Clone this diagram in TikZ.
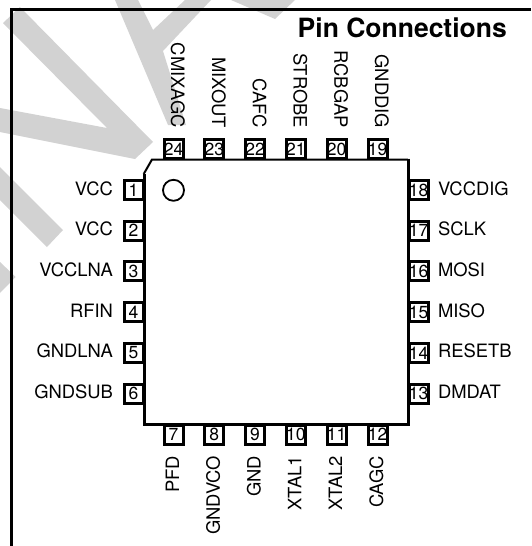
\documentclass[tikz,border=0pt]{standalone}
\usepackage{fontspec}
\setmainfont{TeX Gyre Heros}
\definecolor{wm}{HTML}{D2D2D2}
\tikzset{
  pinbox/.style={draw=black,line width=3pt,minimum width=19pt,minimum height=19pt,inner sep=0pt,outer sep=0pt,font=\fontsize{17.5}{18}\selectfont},
  lab/.style={inner sep=0pt,outer sep=0pt,font=\fontsize{18.4}{19}\selectfont},
  labl/.style={lab,anchor=base east},
  labr/.style={lab,anchor=base west},
  labt/.style={lab,anchor=base east,rotate=-90},
  labb/.style={lab,anchor=base east,rotate=90},
  wmark/.style={fill=wm,draw=none},
  frameline/.style={line width=3pt,line cap=butt},
}
\begin{document}
\begin{tikzpicture}[x=1pt,y=-1pt]
\useasboundingbox (0,0) rectangle (531,546);
% watermark
\fill[wmark] (3,23) -- (20,7) -- (153,142) -- (135,159) -- (0,132) -- (0,108) -- (107,128) -- cycle;
\fill[wmark] (0,167) -- (63,230) -- (47,247) -- (0,200) -- cycle;
\fill[wmark] (0,262) -- (15.7,277) -- (0,293) -- cycle;
\fill[wmark] (115,0) -- (138,0) -- (153,30) -- (185,0) -- (211,0) -- (163,51) -- (186,125) -- (168,125) -- cycle;
\fill[wmark] (231,0) -- (275,19) -- (295,0) -- cycle;
% frame
\draw[frameline] (531,9.7) -- (11.3,9.7) -- (11.3,546);
\node[anchor=base east,inner sep=0pt,font=\fontsize{26.5}{27}\bfseries\selectfont] (title) at (507,37) {Pin Connections};
% package body
\draw[line width=2pt] (143.7,174) -- (152,159.5) -- (408,159.5);
\draw[line width=3pt,line join=miter] (408,158.5) -- (408,424.5) -- (144,424.5) -- (144,173.5);
\node[draw,circle,line width=1.8pt,minimum size=21pt,inner sep=0pt] (dot) at (173.5,190.3) {};
% pins
\foreach \n/\t [count=\i from 0] in {1/VCC,2/VCC,3/VCCLNA,4/RFIN,5/GNDLNA,6/GNDSUB}{
  \node[pinbox] (p\n) at (133.6,190+40.7*\i) {\makebox[0pt]{\n}};
  \node[labl] (l\n) at (113,195+40.7*\i) {\t};
}
\foreach \n/\t [count=\i from 0] in {18/VCCDIG,17/SCLK,16/MOSI,15/MISO,14/RESETB,13/DMDAT}{
  \node[pinbox] (p\n) at (418.5,190+40.7*\i) {\makebox[0pt]{\n}};
  \node[labr] (l\n) at (438,195+40.7*\i) {\t};
}
\foreach \n/\t [count=\i from 0] in {24/CMIXAGC,23/MIXOUT,22/CAFC,21/STROBE,20/RCBGAP,19/GNDDIG}{
  \node[pinbox] (p\n) at (173.5+40.8*\i,149) {\makebox[0pt]{\n}};
  \node[labt] (l\n) at (171.2+40.8*\i,128) {\t};
}
\foreach \n/\t [count=\i from 0] in {7/PFD,8/GNDVCO,9/GND,10/XTAL1,11/XTAL2,12/CAGC}{
  \node[pinbox] (p\n) at (173.5+40.8*\i,434.5) {\makebox[0pt]{\n}};
  \node[labb] (l\n) at (179+40.8*\i,456) {\t};
}
\end{tikzpicture}
\end{document}
